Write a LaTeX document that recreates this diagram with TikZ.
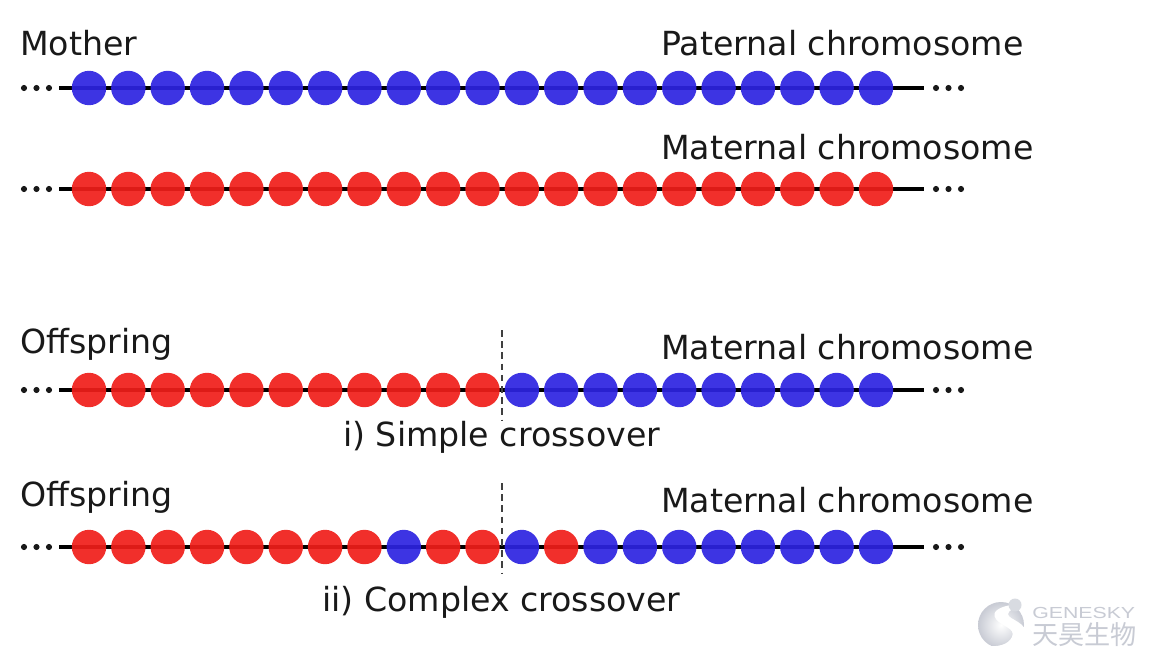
\documentclass[tikz,border=0pt]{standalone}
\usepackage{fontspec}
\setmainfont{DejaVu Sans}
\newfontfamily\cjkfont{Noto Sans CJK SC}
\newfontfamily\logofont[FakeStretch=1.33]{Liberation Sans}
\definecolor{geneblue}{RGB}{45,35,225}
\definecolor{genered}{RGB}{240,30,25}
\definecolor{lblack}{RGB}{25,25,25}
\definecolor{logogray}{RGB}{200,203,212}
\tikzset{
  bead/.style={circle,minimum size=25.8pt,inner sep=0pt,fill opacity=0.92,draw=none},
  strand/.style={draw=black,line width=2.6pt},
  tdot/.style={circle,minimum size=4.6pt,inner sep=0pt,fill=black!90},
  lab/.style={anchor=base west,inner sep=0pt,font=\fontsize{24.9pt}{26pt}\selectfont,text=lblack},
  cut/.style={draw=black!75,line width=1.6pt,dash pattern=on 5pt off 3.4pt},
}
\newcommand{\beadrow}[3]{%
  % #1 = row name, #2 = y, #3 = colour letters for 21 beads
  \foreach \dx in {0,1,2}{
    \node[tdot] (#1l\dx) at ({24+12.5*\dx},#2) {};
    \node[tdot] (#1r\dx) at ({936+12.5*\dx},#2) {};
  }
  \coordinate (#1s) at (59,#2);
  \coordinate (#1e) at (924,#2);
  \draw[strand] (#1s) -- (#1e);
  \foreach \c [count=\i from 0] in {#3}{
    \node[bead,fill=\c] (#1b\i) at ({89+39.35*\i},#2) {};
  }
}
\begin{document}
\begin{tikzpicture}[x=0.75pt,y=-0.75pt]
\useasboundingbox (0,0) rectangle (1156,656);
\fill[white] (0,0) rectangle (1156,656);

\def\B{geneblue}\def\R{genered}
\beadrow{a}{88}{\B,\B,\B,\B,\B,\B,\B,\B,\B,\B,\B,\B,\B,\B,\B,\B,\B,\B,\B,\B,\B}
\beadrow{b}{189}{\R,\R,\R,\R,\R,\R,\R,\R,\R,\R,\R,\R,\R,\R,\R,\R,\R,\R,\R,\R,\R}
\beadrow{c}{390}{\R,\R,\R,\R,\R,\R,\R,\R,\R,\R,\R,\B,\B,\B,\B,\B,\B,\B,\B,\B,\B}
\beadrow{d}{547}{\R,\R,\R,\R,\R,\R,\R,\R,\B,\R,\R,\B,\R,\B,\B,\B,\B,\B,\B,\B,\B}

\coordinate (c1) at (502,330); \coordinate (c2) at (502,420);
\coordinate (d1) at (502,483); \coordinate (d2) at (502,573);
\draw[cut] (c1) -- (c2);
\draw[cut] (d1) -- (d2);

\node[lab] (mother) at (20,56) {Mother};
\node[lab] (pat) at (661,56) {Paternal chromosome};
\node[lab] (mat) at (661,160) {Maternal chromosome};
\node[lab] (off1) at (20,353) {Offspring};
\node[lab] (mat1) at (661,359) {Maternal chromosome};
\node[lab] (simple) at (343,446) {i) Simple crossover};
\node[lab] (off2) at (20,506) {Offspring};
\node[lab] (mat2) at (661,512) {Maternal chromosome};
\node[lab] (complex) at (322,611) {ii) Complex crossover};

% logo
\shade[inner color=white,outer color=logogray] (1001,625) circle[radius=23];
\fill[white] (1026,603) .. controls (1000,605) and (990,611) .. (996,619)
  .. controls (1002,627) and (1016,628) .. (1012,637)
  .. controls (1008,645) and (998,647) .. (986,646)
  .. controls (1000,654) and (1020,651) .. (1025,636)
  .. controls (1029,622) and (1008,620) .. (1008,614)
  .. controls (1008,610) and (1016,608) .. (1026,603) -- cycle;
\fill[logogray!70] (1015,605) circle[radius=6.5];
\node[anchor=base west,inner sep=0pt,text=logogray,font=\logofont\fontsize{12pt}{12pt}\selectfont] (gs) at (1032,618) {GENESKY};
\node[anchor=base west,inner sep=0pt,text=logogray,font=\cjkfont\fontsize{19.6pt}{21pt}\selectfont] (gc) at (1032,644) {天昊生物};
\end{tikzpicture}
\end{document}
